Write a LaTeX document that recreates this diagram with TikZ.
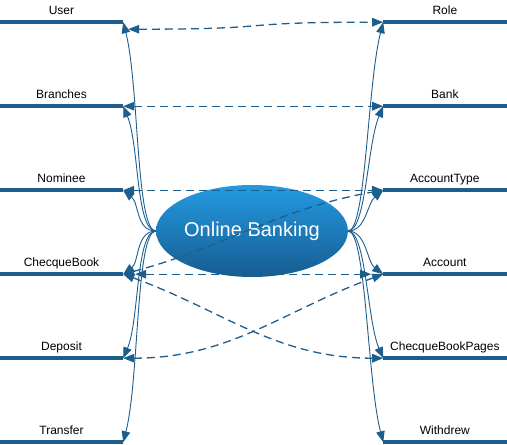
\documentclass[tikz,border=0pt]{standalone}
\usepackage{fontspec}
\setmainfont{Liberation Sans}
\usetikzlibrary{arrows.meta, positioning, shapes.geometric}
\definecolor{bankblue}{RGB}{30,94,140}
\definecolor{hubtop}{RGB}{36,154,226}
\definecolor{hubbottom}{RGB}{22,92,145}

\begin{document}
\begin{tikzpicture}[x=1pt, y=1pt, >={Triangle[length=11pt, width=8.5pt]},
    bar/.style={draw=bankblue, line width=3.5pt, -},
    item/.style={minimum width=123pt, minimum height=20pt, inner sep=0pt, text height=9pt, text depth=3pt, font=\fontsize{12}{14}\selectfont, append after command={(\tikzlastnode.south west) edge[bar] (\tikzlastnode.south east)}},
    hub/.style={ellipse, minimum width=190pt, minimum height=92pt, inner sep=0pt, top color=hubtop, bottom color=hubbottom, text=white, font=\fontsize{20}{24}\selectfont},
    spoke/.style={draw=bankblue, line width=0.9pt, ->},
    link/.style={draw=bankblue, line width=1.3pt, dash pattern=on 8pt off 5pt, <->},
    node distance=63.6pt]
    \useasboundingbox (0,0) rectangle (507,445);

    % left column
    \node[item] (user) at (61.5,433) {User};
    \node[item, below=of user] (branches) {Branches};
    \node[item, below=of branches] (nominee) {Nominee};
    \node[item, below=of nominee] (chequebook) {ChecqueBook};
    \node[item, below=of chequebook] (deposit) {Deposit};
    \node[item, below=of deposit] (transfer) {Transfer};

    % right column
    \node[item, right=260pt of user] (role) {Role};
    \node[item, below=of role] (bank) {Bank};
    \node[item, below=of bank] (accounttype) {AccountType};
    \node[item, below=of accounttype] (account) {Account};
    \node[item, below=of account] (chequebookpages) {ChecqueBookPages};
    \node[item, below=of chequebookpages] (withdrew) {Withdrew};

    \node[hub] (ob) at (252,214) {Online Banking};

    % spokes to the left
    \draw[spoke] (ob.west) .. controls +(-20pt,0pt) and +(16pt,-63pt) .. (user.south east);
    \draw[spoke] (ob.west) .. controls +(-20pt,0pt) and +(16pt,-38pt) .. (branches.south east);
    \draw[spoke] (ob.west) .. controls +(-20pt,0pt) and +(16pt,-13pt) .. (nominee.south east);
    \draw[spoke] (ob.west) .. controls +(-20pt,0pt) and +(16pt,12pt) .. (chequebook.south east);
    \draw[spoke] (ob.west) .. controls +(-20pt,0pt) and +(16pt,37pt) .. (deposit.south east);
    \draw[spoke] (ob.west) .. controls +(-20pt,0pt) and +(16pt,62pt) .. (transfer.south east);

    % spokes to the right
    \draw[spoke] (ob.east) .. controls +(18pt,0pt) and +(-16pt,-63pt) .. (role.south west);
    \draw[spoke] (ob.east) .. controls +(18pt,0pt) and +(-16pt,-38pt) .. (bank.south west);
    \draw[spoke] (ob.east) .. controls +(18pt,0pt) and +(-16pt,-13pt) .. (accounttype.south west);
    \draw[spoke] (ob.east) .. controls +(18pt,0pt) and +(-16pt,12pt) .. (account.south west);
    \draw[spoke] (ob.east) .. controls +(18pt,0pt) and +(-16pt,37pt) .. (chequebookpages.south west);
    \draw[spoke] (ob.east) .. controls +(18pt,0pt) and +(-16pt,62pt) .. (withdrew.south west);

    % relations
    \draw[link] ([shift={(5pt,-7pt)}]user.south east) to[out=0, in=180, looseness=1.6] (role.south west);
    \draw[link] (branches.south east) -- (bank.south west);
    \draw[link] (nominee.south east) -- (accounttype.south west);
    \draw[link] (chequebook.south east) to[out=15, in=190] (accounttype.south west);
    \draw[link] ([xshift=12pt]chequebook.south east) -- ([xshift=-12pt]account.south west);
    \draw[link] (chequebook.south east) to[out=-20, in=180] (chequebookpages.south west);
    \draw[link] (deposit.south east) to[out=0, in=200] (account.south west);
\end{tikzpicture}
\end{document}
